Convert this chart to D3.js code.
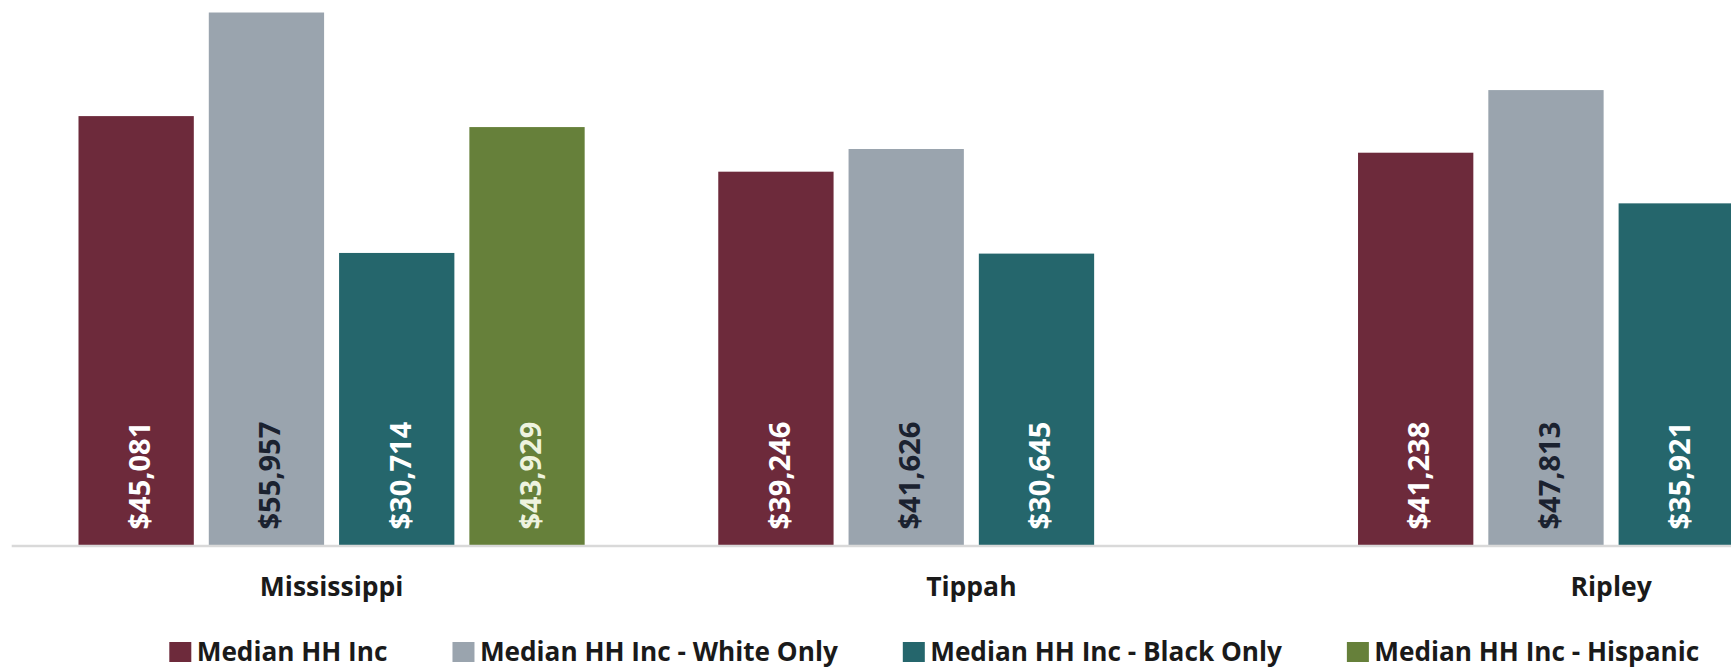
<!DOCTYPE html>
<html>
<head>
<meta charset="utf-8">
<script src="https://cdn.jsdelivr.net/npm/d3@7"></script>
<style>
  html, body { margin: 0; padding: 0; background: #ffffff; }
  svg { display: block; }
  text { font-family: "Open Sans", "Noto Sans", sans-serif; font-weight: 700; }
</style>
</head>
<body>
<svg id="chart" width="1731" height="668"></svg>
<script>
// ---- data ----
const categories = ["Mississippi", "Tippah", "Ripley"];
const seriesNames = ["Median HH Inc", "Median HH Inc - White Only", "Median HH Inc - Black Only", "Median HH Inc - Hispanic"];
const medianHHInc      = [45081, 39246, 41238];
const medianWhiteOnly  = [55957, 41626, 47813];
const medianBlackOnly  = [30714, 30645, 35921];
const medianHispanic   = [43929, null, null];

const seriesValues = [medianHHInc, medianWhiteOnly, medianBlackOnly, medianHispanic];
const colors = ["#6d2a3b", "#9aa4ae", "#25666c", "#66803a"];
const labelColors = ["#ffffff", "#1b2230", "#ffffff", "#eef3df"];

// ---- layout ----
const svg = d3.select("#chart");
const baseY = 545.5;

const x0 = d3.scaleBand().domain(categories).range([11.7, 1931]).paddingInner(0).paddingOuter(0);
const x1 = d3.scaleBand().domain(d3.range(seriesNames.length))
  .range([66.8, x0.bandwidth() - 66.8]).paddingInner(0.115).paddingOuter(0);
const y = d3.scaleLinear().domain([0, 60000]).range([baseY, baseY - 60000 * 0.009525]);

const fmt = v => "$" + d3.format(",")(v);

// rows
const rows = [];
categories.forEach((c, ci) => {
  seriesValues.forEach((vals, si) => {
    if (vals[ci] != null) rows.push({ cat: c, s: si, v: vals[ci] });
  });
});

// bars
svg.append("g").selectAll("rect").data(rows).join("rect")
  .attr("x", d => x0(d.cat) + x1(d.s))
  .attr("y", d => y(d.v))
  .attr("width", x1.bandwidth())
  .attr("height", d => y(0) - y(d.v))
  .attr("fill", d => colors[d.s]);

// baseline
svg.append("line")
  .attr("x1", x0.range()[0]).attr("x2", x0.range()[1])
  .attr("y1", baseY + 0.5).attr("y2", baseY + 0.5)
  .attr("stroke", "#d9d9d9").attr("stroke-width", 2.5);

// value labels (rotated)
svg.append("g").selectAll("text").data(rows).join("text")
  .attr("transform", d => {
    const cx = x0(d.cat) + x1(d.s) + x1.bandwidth() / 2 + 13.8;
    return `translate(${cx},${y(0) - 16}) rotate(-90)`;
  })
  .attr("text-anchor", "start")
  .attr("font-size", 29)
  .attr("fill", d => labelColors[d.s])
  .text(d => fmt(d.v));

// category axis labels
const xAxis = d3.axisBottom(x0).tickSize(0).tickPadding(0);
const gx = svg.append("g").attr("transform", `translate(0,${baseY})`).call(xAxis);
gx.select(".domain").remove();
gx.selectAll(".tick text")
  .attr("y", 50)
  .attr("dy", 0)
  .attr("font-size", 26.5)
  .attr("font-family", "'Open Sans', 'Noto Sans', sans-serif")
  .attr("font-weight", 700)
  .attr("fill", "#1a1a1a");

// legend
const legend = svg.append("g");
let lx = 169.3;
const legY = 661;
seriesNames.forEach((name, i) => {
  legend.append("rect")
    .attr("x", lx).attr("y", 642).attr("width", 22).attr("height", 20)
    .attr("fill", colors[i]);
  const t = legend.append("text")
    .attr("x", lx + 27.4).attr("y", legY)
    .attr("font-size", 26.2)
    .attr("fill", "#1a1a1a")
    .text(name);
  const w = t.node().getComputedTextLength();
  lx = lx + 27.4 + w + 65;
});
</script>
</body>
</html>
